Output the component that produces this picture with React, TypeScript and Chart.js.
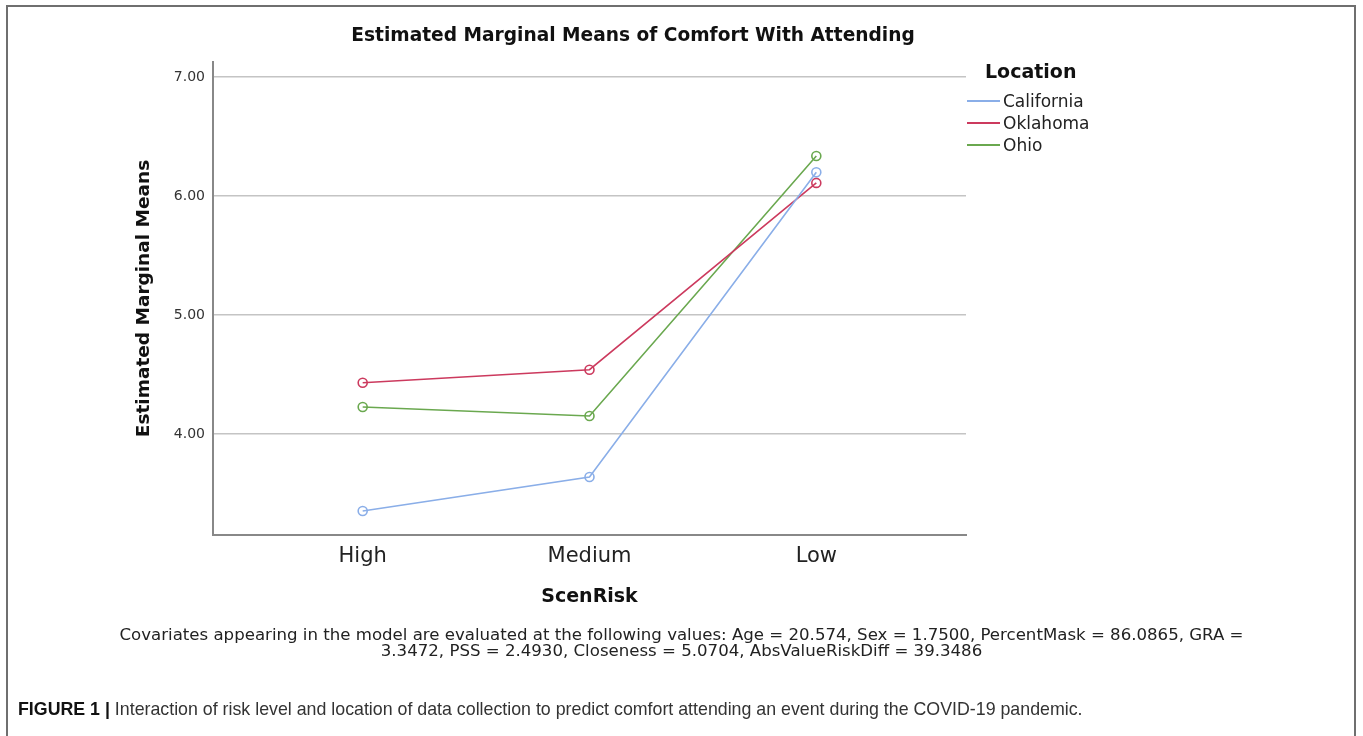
import React, { useEffect, useRef } from "react";
import { Chart, registerables } from "chart.js";

Chart.register(...registerables);

// Scenario risk levels on the x axis
const categories = ["High", "Medium", "Low"];
// Estimated marginal means by location
const californiaMeans = [3.353, 3.639, 6.2];
const oklahomaMeans = [4.43, 4.54, 6.11];
const ohioMeans = [4.227, 4.151, 6.336];
const yTickValues = [4, 5, 6, 7];

const seriesNames = ["California", "Oklahoma", "Ohio"];
const seriesColors = ["#8aaee8", "#cc3a5e", "#6aa84f"];

const W = 1363;
const H = 736;
const SANS = "'DejaVu Sans', 'Open Sans', sans-serif";

export default function App() {
  const canvasRef = useRef<HTMLCanvasElement | null>(null);

  useEffect(() => {
    const canvas = canvasRef.current;
    if (!canvas) return;
    const allSeries = [californiaMeans, oklahomaMeans, ohioMeans];
    const chart = new Chart(canvas, {
      type: "line",
      data: {
        datasets: allSeries.map((vals, i) => ({
          label: seriesNames[i],
          data: vals.map((v, j) => ({ x: j, y: v })),
          borderColor: seriesColors[i],
          backgroundColor: "rgba(0,0,0,0)",
          borderWidth: 1.6,
          pointRadius: 4.5,
          pointBorderWidth: 1.6,
          pointBackgroundColor: "rgba(0,0,0,0)",
          pointBorderColor: seriesColors[i],
          tension: 0,
        })),
      },
      options: {
        responsive: false,
        animation: false,
        events: [],
        layout: { padding: { top: 62, left: 133, right: 397, bottom: 128 } },
        plugins: {
          legend: { display: false },
          title: { display: false },
          tooltip: { enabled: false },
        },
        scales: {
          x: {
            type: "linear",
            min: -0.66,
            max: 2.66,
            afterBuildTicks: (scale: any) => {
              scale.ticks = categories.map((_, i) => ({ value: i }));
            },
            afterFit: (scale: any) => {
              scale.height = 73;
            },
            grid: { display: false, drawTicks: false },
            border: { display: true, color: "#888888", width: 2 },
            ticks: {
              autoSkip: false,
              maxRotation: 0,
              padding: 9,
              color: "#222222",
              font: { family: SANS, size: 21 },
              callback: (v: any) => categories[Math.round(Number(v))] ?? "",
            },
            title: {
              display: true,
              text: "ScenRisk",
              color: "#111111",
              padding: 0,
              font: { family: SANS, size: 19, weight: "bold" },
            },
          },
          y: {
            type: "linear",
            min: 3.151,
            max: 7.126,
            afterBuildTicks: (scale: any) => {
              scale.ticks = yTickValues.map((v) => ({ value: v }));
            },
            afterFit: (scale: any) => {
              scale.width = 80;
            },
            grid: { color: "#c4c4c4", lineWidth: 1.5, drawTicks: false },
            border: { display: true, color: "#888888", width: 2 },
            ticks: {
              padding: 8,
              color: "#333333",
              font: { family: SANS, size: 14 },
              callback: (v: any) => Number(v).toFixed(2),
            },
            title: {
              display: true,
              text: "Estimated Marginal Means",
              color: "#111111",
              padding: 0,
              font: { family: SANS, size: 18.5, weight: "bold" },
            },
          },
        },
      },
    });
    return () => chart.destroy();
  }, []);

  return (
    <div style={{ position: "fixed", left: 0, top: 0, width: W, height: H, background: "#fff", overflow: "hidden" }}>
      <div
        style={{
          position: "absolute",
          left: 6,
          top: 5,
          width: 1350,
          height: 740,
          border: "2px solid #6f6f6f",
          boxSizing: "border-box",
        }}
      />
      <canvas ref={canvasRef} width={W} height={H} style={{ position: "absolute", left: 0, top: 0 }} />
      <div
        style={{
          position: "absolute",
          left: 333,
          width: 600,
          top: 23,
          textAlign: "center",
          fontFamily: SANS,
          fontWeight: "bold",
          fontSize: 18.6,
          color: "#111",
          lineHeight: "24px",
        }}
      >
        Estimated Marginal Means of Comfort With Attending
      </div>
      <div
        style={{
          position: "absolute",
          left: 985,
          top: 58,
          fontFamily: SANS,
          fontWeight: "bold",
          fontSize: 19,
          color: "#111",
          lineHeight: "26px",
        }}
      >
        Location
      </div>
      {seriesNames.map((name, i) => (
        <div
          key={name}
          style={{
            position: "absolute",
            left: 967,
            top: 91 + i * 22,
            display: "flex",
            alignItems: "center",
            fontFamily: SANS,
            fontSize: 17,
            color: "#222",
            lineHeight: "20px",
          }}
        >
          <span style={{ display: "inline-block", width: 33, height: 0, borderTop: `2px solid ${seriesColors[i]}`, marginRight: 3 }} />
          {name}
        </div>
      ))}
      <div
        style={{
          position: "absolute",
          left: 0,
          width: W,
          top: 627,
          textAlign: "center",
          fontFamily: SANS,
          fontSize: 16.6,
          color: "#222",
          lineHeight: "16px",
        }}
      >
        Covariates appearing in the model are evaluated at the following values: Age = 20.574, Sex = 1.7500, PercentMask = 86.0865, GRA =
        <br />
        3.3472, PSS = 2.4930, Closeness = 5.0704, AbsValueRiskDiff = 39.3486
      </div>
      <div
        style={{
          position: "absolute",
          left: 18,
          top: 698,
          fontFamily: "'Liberation Sans', Arial, sans-serif",
          fontSize: 17.8,
          color: "#333",
          lineHeight: "22px",
          whiteSpace: "nowrap",
        }}
      >
        <b style={{ color: "#111" }}>FIGURE 1 |</b> Interaction of risk level and location of data collection to predict comfort attending an event during the COVID-19 pandemic.
      </div>
    </div>
  );
}
